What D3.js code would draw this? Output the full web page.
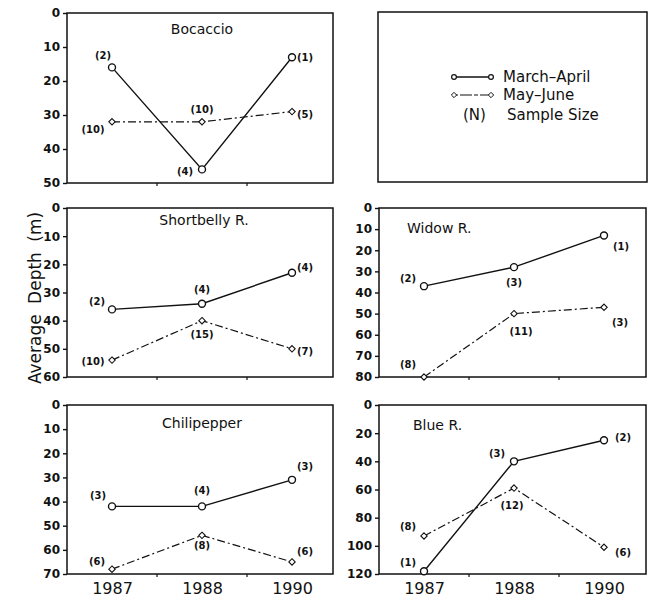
<!DOCTYPE html>
<html>
<head>
<meta charset="utf-8">
<script src="https://cdn.jsdelivr.net/npm/d3@7"></script>
<style>
  body { margin: 0; background: #fff; }
  svg { display: block; font-family: "DejaVu Sans", sans-serif; }
</style>
</head>
<body>
<div id="chart"></div>
<script>
// survey years (categorical x)
const years = ['1987', '1988', '1990']

// average depth (m), March-April and May-June, with sample sizes
const bocaccioMarApr = [16, 46, 13]
const bocaccioMayJun = [32, 32, 29]
const bocaccioNMarApr = [2, 4, 1]
const bocaccioNMayJun = [10, 10, 5]

const shortbellyMarApr = [36, 34, 23]
const shortbellyMayJun = [54, 40, 50]
const shortbellyNMarApr = [2, 4, 4]
const shortbellyNMayJun = [10, 15, 7]

const widowMarApr = [37, 28, 13]
const widowMayJun = [80, 50, 47]
const widowNMarApr = [2, 3, 1]
const widowNMayJun = [8, 11, 3]

const chiliMarApr = [42, 42, 31]
const chiliMayJun = [68, 54, 65]
const chiliNMarApr = [3, 4, 3]
const chiliNMayJun = [6, 8, 6]

const blueMarApr = [118, 40, 25]
const blueMayJun = [93, 59, 101]
const blueNMarApr = [1, 3, 2]
const blueNMayJun = [8, 12, 6]

// y-axis ticks per panel
const bocaccioTicks = [0, 10, 20, 30, 40, 50]
const shortbellyTicks = [0, 10, 20, 30, 40, 50, 60]
const widowTicks = [0, 10, 20, 30, 40, 50, 60, 70, 80]
const chiliTicks = [0, 10, 20, 30, 40, 50, 60, 70]
const blueTicks = [0, 20, 40, 60, 80, 100, 120]

const legendLabels = ['March\u2013April', 'May\u2013June']

// layout
const W = 652, H = 601
const cols = [{ x: 67, w: 266 }, { x: 379, w: 267 }]
const rows = [{ y: 13, h: 170 }, { y: 208, h: 169 }, { y: 405, h: 169 }]

const panels = [
  { title: 'Bocaccio', ma: bocaccioMarApr, mj: bocaccioMayJun, nMa: bocaccioNMarApr, nMj: bocaccioNMayJun,
    ticks: bocaccioTicks, col: 0, row: 0, tx: 135, ty: 16, anchor: 'middle',
    offMa: [[-9, -12], [-17, 2], [13, 0]], offMj: [[-19, 8], [0, -12], [13, 3]] },
  { title: 'Shortbelly R.', ma: shortbellyMarApr, mj: shortbellyMayJun, nMa: shortbellyNMarApr, nMj: shortbellyNMayJun,
    ticks: shortbellyTicks, col: 0, row: 1, tx: 137, ty: 12, anchor: 'middle',
    offMa: [[-15, -8], [0, -14], [13, -5]], offMj: [[-19, 1], [0, 14], [13, 3]] },
  { title: 'Widow R.', ma: widowMarApr, mj: widowMayJun, nMa: widowNMarApr, nMj: widowNMayJun,
    ticks: widowTicks, col: 1, row: 1, tx: 28, ty: 20, anchor: 'start',
    offMa: [[-16, -8], [0, 15], [17, 11]], offMj: [[-16, -13], [7, 18], [16, 15]] },
  { title: 'Chilipepper', ma: chiliMarApr, mj: chiliMayJun, nMa: chiliNMarApr, nMj: chiliNMayJun,
    ticks: chiliTicks, col: 0, row: 2, tx: 135, ty: 18, anchor: 'middle',
    offMa: [[-14, -11], [0, -16], [13, -13]], offMj: [[-15, -8], [0, 10], [13, -10]] },
  { title: 'Blue R.', ma: blueMarApr, mj: blueMayJun, nMa: blueNMarApr, nMj: blueNMayJun,
    ticks: blueTicks, col: 1, row: 2, tx: 34, ty: 20, anchor: 'start',
    offMa: [[-16, -9], [-17, -8], [19, -3]], offMj: [[-16, -9], [-2, 17], [19, 5]] },
]

const ink = '#111'
const dashDot = '8,3,2,3'

const svg = d3.select('#chart').append('svg').attr('width', W).attr('height', H)

const x = d3.scalePoint().domain(years).range([0, 270]).padding(0.5)
const diamond = d3.symbol().type(d3.symbolDiamond2).size(26)
const smallDiamond = d3.symbol().type(d3.symbolDiamond2).size(18)

function drawPanel(p) {
  const c = cols[p.col], r = rows[p.row]
  const g = svg.append('g').attr('transform', `translate(${c.x},${r.y})`)
  const y = d3.scaleLinear().domain([0, d3.max(p.ticks)]).range([0, r.h])

  // y axis
  const ya = g.append('g').call(d3.axisLeft(y).tickValues(p.ticks).tickSize(4).tickPadding(3))
  ya.select('.domain').remove()
  ya.selectAll('line').attr('stroke', ink).attr('stroke-width', 1.4)
  ya.selectAll('text').attr('fill', ink).style('font-size', '12px').style('font-weight', 'bold')
    .style('font-family', '"DejaVu Sans", sans-serif')

  // x ticks between categories
  const mids = years.slice(1).map((yr, i) => (x(years[i]) + x(yr)) / 2)
  g.selectAll('.xt').data(mids).join('line')
    .attr('x1', d => d).attr('x2', d => d).attr('y1', r.h).attr('y2', r.h + 3)
    .attr('stroke', ink).attr('stroke-width', 1.2)

  // frame
  g.append('rect').attr('width', c.w).attr('height', r.h)
    .attr('fill', 'none').attr('stroke', ink).attr('stroke-width', 1.5)

  // year labels on the bottom row
  if (p.row === 2) {
    const xa = g.append('g').attr('transform', `translate(0,${r.h})`)
      .call(d3.axisBottom(x).tickSize(0).tickPadding(9))
    xa.select('.domain').remove()
    xa.selectAll('text').attr('fill', ink).style('font-size', '16px')
      .style('font-family', '"DejaVu Sans", sans-serif')
  }

  g.append('text').attr('x', p.tx).attr('y', p.ty).attr('dy', '0.35em')
    .attr('text-anchor', p.anchor).attr('fill', ink).style('font-size', '14px').text(p.title)

  const line = d3.line().x((d, i) => x(years[i])).y(d => y(d))

  // May-June: dash-dot with diamonds
  g.append('path').datum(p.mj).attr('d', line).attr('fill', 'none')
    .attr('stroke', ink).attr('stroke-width', 1.2).attr('stroke-dasharray', dashDot)
  g.selectAll('.mj').data(p.mj).join('path')
    .attr('transform', (d, i) => `translate(${x(years[i])},${y(d)})`)
    .attr('d', diamond).attr('fill', '#fff').attr('stroke', ink).attr('stroke-width', 1.1)

  // March-April: solid with circles
  g.append('path').datum(p.ma).attr('d', line).attr('fill', 'none')
    .attr('stroke', ink).attr('stroke-width', 1.4)
  g.selectAll('.ma').data(p.ma).join('circle')
    .attr('cx', (d, i) => x(years[i])).attr('cy', d => y(d)).attr('r', 3.5)
    .attr('fill', '#fff').attr('stroke', ink).attr('stroke-width', 1.4)

  // sample sizes
  const lab = (vals, ns, offs) => g.selectAll(null).data(vals).join('text')
    .attr('x', (d, i) => x(years[i]) + offs[i][0])
    .attr('y', (d, i) => y(d) + offs[i][1])
    .attr('dy', '0.35em').attr('text-anchor', 'middle').attr('fill', ink)
    .style('font-size', '10px').style('font-weight', 'bold')
    .text((d, i) => `(${ns[i]})`)
  lab(p.ma, p.nMa, p.offMa)
  lab(p.mj, p.nMj, p.offMj)
}

panels.forEach(drawPanel)

// legend box
const lg = svg.append('g')
lg.append('rect').attr('x', 378).attr('y', 12).attr('width', 269).attr('height', 170)
  .attr('fill', 'none').attr('stroke', ink).attr('stroke-width', 1.5)

const legRows = [77, 95]
legendLabels.forEach((t, i) => {
  const yy = legRows[i]
  lg.append('line').attr('x1', 454).attr('x2', 491).attr('y1', yy).attr('y2', yy)
    .attr('stroke', ink).attr('stroke-width', i ? 1.2 : 1.4)
    .attr('stroke-dasharray', i ? '4,2,12,2' : null)
  ;[454, 491].forEach(xx => {
    if (i === 0) {
      lg.append('circle').attr('cx', xx).attr('cy', yy).attr('r', 2.4)
        .attr('fill', '#fff').attr('stroke', ink).attr('stroke-width', 1.2)
    } else {
      lg.append('path').attr('transform', `translate(${xx},${yy})`).attr('d', smallDiamond)
        .attr('fill', '#fff').attr('stroke', ink).attr('stroke-width', 1)
    }
  })
  lg.append('text').attr('x', 503).attr('y', yy).attr('dy', '0.35em')
    .attr('fill', ink).style('font-size', '15px').text(t)
})
lg.append('text').attr('x', 463).attr('y', 115).attr('dy', '0.35em')
  .attr('fill', ink).style('font-size', '15px').text('(N)')
lg.append('text').attr('x', 507).attr('y', 115).attr('dy', '0.35em')
  .attr('fill', ink).style('font-size', '15px').text('Sample Size')

// axis title
svg.append('text').attr('transform', 'translate(41,298) rotate(-90)')
  .attr('text-anchor', 'middle').attr('fill', ink).style('font-size', '17px')
  .style('word-spacing', '5px').text('Average Depth (m)')
</script>
</body>
</html>
